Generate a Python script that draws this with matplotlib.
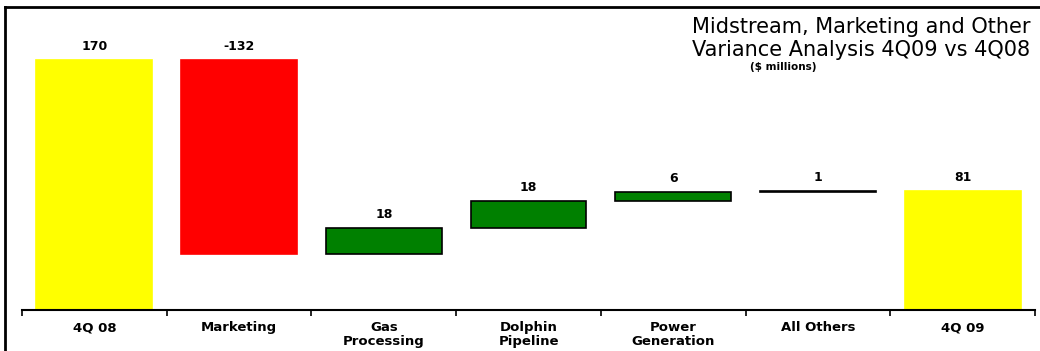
import matplotlib.pyplot as plt
import numpy as np
from matplotlib.lines import Line2D

# waterfall data ($ millions)
categories = ["4Q 08", "Marketing", "Gas\nProcessing", "Dolphin\nPipeline",
              "Power\nGeneration", "All Others", "4Q 09"]
start_value = 170
changes = [-132, 18, 18, 6, 1]
end_value = 81
value_labels = ["170", "-132", "18", "18", "6", "1", "81"]
bar_colors = ["#ffff00", "#ff0000", "#008000", "#008000", "#008000", "#000000", "#ffff00"]
edge_colors = ["#ffff00", "#ff0000", "#000000", "#000000", "#000000", "#000000", "#ffff00"]

# bottoms / heights for the floating bars
levels = np.concatenate([[start_value], start_value + np.cumsum(changes)])
bottoms = [0]
heights = [start_value]
for prev, ch in zip(levels[:-1], changes):
    bottoms.append(min(prev, prev + ch))
    heights.append(abs(ch))
bottoms.append(0)
heights.append(end_value)
tops = [b + h for b, h in zip(bottoms, heights)]

W, H = 1040, 351
fig = plt.figure(figsize=(W / 100, H / 100), dpi=100)
ax = fig.add_axes([22 / W, 41 / H, (1035 - 22) / W, 180 * 250 / 170 / H])

x = np.arange(len(categories))
ax.bar(x, heights, bottom=bottoms, width=0.8, color=bar_colors,
       edgecolor=edge_colors, linewidth=1.2, zorder=2)

for xi, top, lab in zip(x, tops, value_labels):
    ax.annotate(lab, (xi, top), xytext=(0, 5), textcoords="offset points",
                ha="center", va="bottom", fontsize=9, fontweight="bold")

ax.set_xlim(-0.5, len(categories) - 0.5)
ax.set_ylim(0, 180)
ax.set_yticks([])
for s in ("left", "top", "right"):
    ax.spines[s].set_visible(False)
ax.spines["bottom"].set_linewidth(1.5)

ax.set_xticks(x)
ax.set_xticklabels(categories, fontsize=9.5, fontweight="bold", linespacing=1.05)
ax.tick_params(axis="x", which="major", length=0, pad=8)
ax.set_xticks(np.arange(-0.5, len(categories)), minor=True)
ax.tick_params(axis="x", which="minor", length=4, width=1.2, direction="out")

fig.text(1030 / W, 1 - 27 / H, "Midstream, Marketing and Other",
         ha="right", va="center", fontsize=15)
fig.text(1030 / W, 1 - 50 / H, "Variance Analysis 4Q09 vs 4Q08",
         ha="right", va="center", fontsize=15)
fig.text(783 / W, 1 - 67 / H, "($ millions)", ha="center", va="center",
         fontsize=7.5, fontweight="bold")

# outer frame (left and top edges)
fig.add_artist(Line2D([5 / W, 5 / W], [0, 1 - 7 / H], color="black", lw=2))
fig.add_artist(Line2D([5 / W, 1], [1 - 7 / H, 1 - 7 / H], color="black", lw=2))

fig.savefig("out.png", dpi=100)
